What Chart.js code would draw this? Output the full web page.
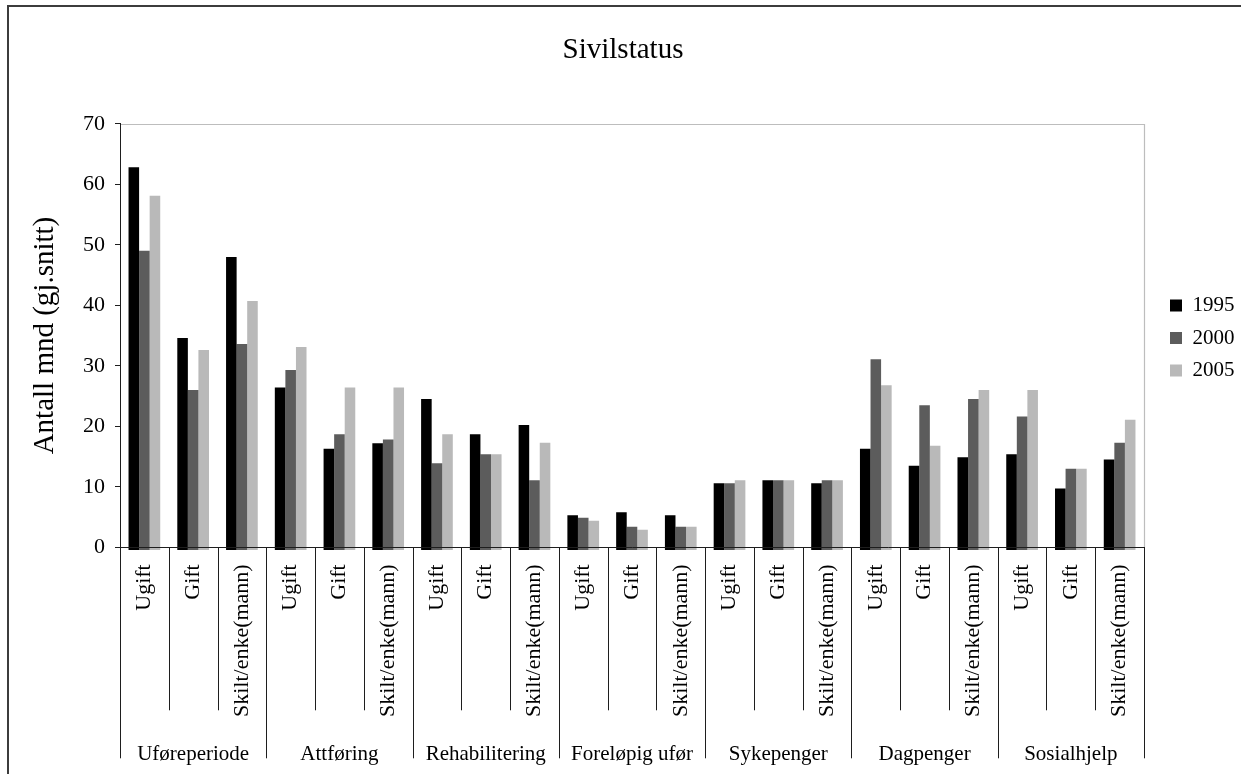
<!DOCTYPE html>
<html>
<head>
<meta charset="utf-8">
<title>Sivilstatus</title>
<script src="https://cdn.jsdelivr.net/npm/chart.js@4.4.1/dist/chart.umd.min.js"></script>
<style>
  html, body { margin: 0; padding: 0; background: #ffffff; }
  canvas { display: block; }
</style>
</head>
<body>
<canvas id="chart" width="1241" height="774"></canvas>
<script>
// Benefit types (outer category level) and marital status (inner level)
const groups = ['Uføreperiode', 'Attføring', 'Rehabilitering', 'Foreløpig ufør', 'Sykepenger', 'Dagpenger', 'Sosialhjelp'];
const statuses = ['Ugift', 'Gift', 'Skilt/enke(mann)'];
const years = ['1995', '2000', '2005'];

// Average number of months, one value per group × status
const v1995 = [62.8, 34.6, 48.0, 26.4, 16.3, 17.2, 24.5, 18.7, 20.2, 5.3, 5.8, 5.3, 10.6, 11.1, 10.6, 16.3, 13.5, 14.9, 15.4, 9.7, 14.5];
const v2000 = [49.0, 26.0, 33.6, 29.3, 18.7, 17.8, 13.9, 15.4, 11.1, 4.9, 3.4, 3.4, 10.6, 11.1, 11.1, 31.1, 23.5, 24.5, 21.6, 13.0, 17.3];
const v2005 = [58.1, 32.6, 40.7, 33.1, 26.4, 26.4, 18.7, 15.4, 17.3, 4.4, 2.9, 3.4, 11.1, 11.1, 11.1, 26.8, 16.8, 26.0, 26.0, 13.0, 21.1];

const yTicks = [0, 10, 20, 30, 40, 50, 60, 70];
const chartTitle = 'Sivilstatus';
const yTitle = 'Antall mnd (gj.snitt)';

const seriesColors = ['#000000', '#5c5c5c', '#b9b9b9'];
const FONT = "'Liberation Serif', 'Times New Roman', serif";

const labels = groups.flatMap(() => statuses);
const seriesValues = [v1995, v2000, v2005];

// Page background and the chart frame
const framePlugin = {
  id: 'frame',
  beforeDraw(chart) {
    const ctx = chart.ctx;
    ctx.save();
    ctx.fillStyle = '#ffffff';
    ctx.fillRect(0, 0, chart.width, chart.height);
    ctx.strokeStyle = '#3c3c3c';
    ctx.lineWidth = 2;
    ctx.beginPath();
    ctx.moveTo(8, chart.height);
    ctx.lineTo(8, 6);
    ctx.lineTo(chart.width, 6);
    ctx.stroke();
    ctx.restore();
  }
};

// Grey top and right edges of the plot area
const plotBorderPlugin = {
  id: 'plotBorder',
  beforeDatasetsDraw(chart) {
    const { ctx, chartArea: a } = chart;
    ctx.save();
    ctx.strokeStyle = '#bdbdbd';
    ctx.lineWidth = 1.2;
    ctx.beginPath();
    ctx.moveTo(a.left, Math.round(a.top) + 0.5);
    ctx.lineTo(Math.round(a.right) + 0.5, Math.round(a.top) + 0.5);
    ctx.lineTo(Math.round(a.right) + 0.5, a.bottom);
    ctx.stroke();
    ctx.restore();
  }
};

// Two-level category axis: separators below the axis and the group names
const groupAxisPlugin = {
  id: 'groupAxis',
  afterDraw(chart) {
    const { ctx, chartArea: a } = chart;
    const x = chart.scales.x;
    const n = labels.length;
    const half = (x.getPixelForValue(1) - x.getPixelForValue(0)) / 2;
    const minorDrop = 163, majorDrop = 211, labelDrop = 213;
    ctx.save();
    ctx.strokeStyle = '#1e1e1e';
    ctx.lineWidth = 1;
    for (let i = 0; i <= n; i++) {
      const px = i < n ? x.getPixelForValue(i) - half : x.getPixelForValue(n - 1) + half;
      const major = i % statuses.length === 0;
      const xx = Math.round(px) + 0.5;
      ctx.beginPath();
      ctx.moveTo(xx, a.bottom);
      ctx.lineTo(xx, a.bottom + (major ? majorDrop : minorDrop));
      ctx.stroke();
    }
    ctx.fillStyle = '#000000';
    ctx.font = '21px ' + FONT;
    ctx.textAlign = 'center';
    ctx.textBaseline = 'alphabetic';
    groups.forEach((g, gi) => {
      const first = gi * statuses.length;
      const last = first + statuses.length - 1;
      const cx = (x.getPixelForValue(first) + x.getPixelForValue(last)) / 2;
      ctx.fillText(g, cx, a.bottom + labelDrop);
    });
    ctx.restore();
  }
};

// Nudge the legend and the title block after layout
const blockOffsetPlugin = {
  id: 'blockOffset',
  afterLayout(chart) {
    const lg = chart.legend;
    if (lg) {
      lg.left += 14.5;
      lg.right += 14.5;
      lg.top -= 49;
      lg.bottom -= 49;
    }
    const tb = chart.titleBlock;
    if (tb) {
      tb.left += 8;
      tb.right += 8;
    }
  }
};

new Chart(document.getElementById('chart'), {
  type: 'bar',
  data: {
    labels: labels,
    datasets: years.map((yr, i) => ({
      label: yr,
      data: seriesValues[i],
      base: -0.45,
      clip: { left: 0, top: 0, right: 0, bottom: 4 },
      backgroundColor: seriesColors[i],
      borderWidth: 0,
      categoryPercentage: 0.65,
      barPercentage: 1.0
    }))
  },
  options: {
    responsive: false,
    animation: false,
    devicePixelRatio: 1,
    events: [],
    layout: { padding: { left: 0, right: 11, top: 0, bottom: 0 } },
    plugins: {
      title: {
        display: true,
        text: chartTitle,
        color: '#000000',
        font: { family: FONT, size: 29, weight: 'normal' },
        padding: { top: 33, bottom: 56 }
      },
      legend: {
        display: true,
        position: 'right',
        align: 'center',
        labels: {
          color: '#000000',
          font: { family: FONT, size: 21 },
          boxWidth: 12,
          boxHeight: 12,
          padding: 11.5
        }
      },
      tooltip: { enabled: false }
    },
    scales: {
      x: {
        type: 'category',
        offset: true,
        grid: { display: false },
        border: { display: true, color: '#1e1e1e', width: 1, z: 1 },
        ticks: {
          autoSkip: false,
          minRotation: 90,
          maxRotation: 90,
          padding: 9,
          color: '#000000',
          font: { family: FONT, size: 22 }
        },
        afterFit(scale) { scale.height = 226.7; }
      },
      y: {
        min: 0,
        max: 70,
        afterBuildTicks(scale) { scale.ticks = yTicks.map(v => ({ value: v })); },
        grid: { display: true, drawOnChartArea: false, drawTicks: true, tickLength: 5, color: '#1e1e1e' },
        border: { display: true, color: '#1e1e1e', width: 1, z: 1 },
        ticks: {
          padding: 10,
          color: '#000000',
          font: { family: FONT, size: 22 }
        },
        title: {
          display: true,
          text: yTitle,
          color: '#000000',
          font: { family: FONT, size: 29, weight: 'normal' },
          padding: { top: 28, bottom: 0 }
        },
        afterFit(scale) { scale.width = 120; }
      }
    }
  },
  plugins: [framePlugin, plotBorderPlugin, groupAxisPlugin, blockOffsetPlugin]
});
</script>
</body>
</html>
